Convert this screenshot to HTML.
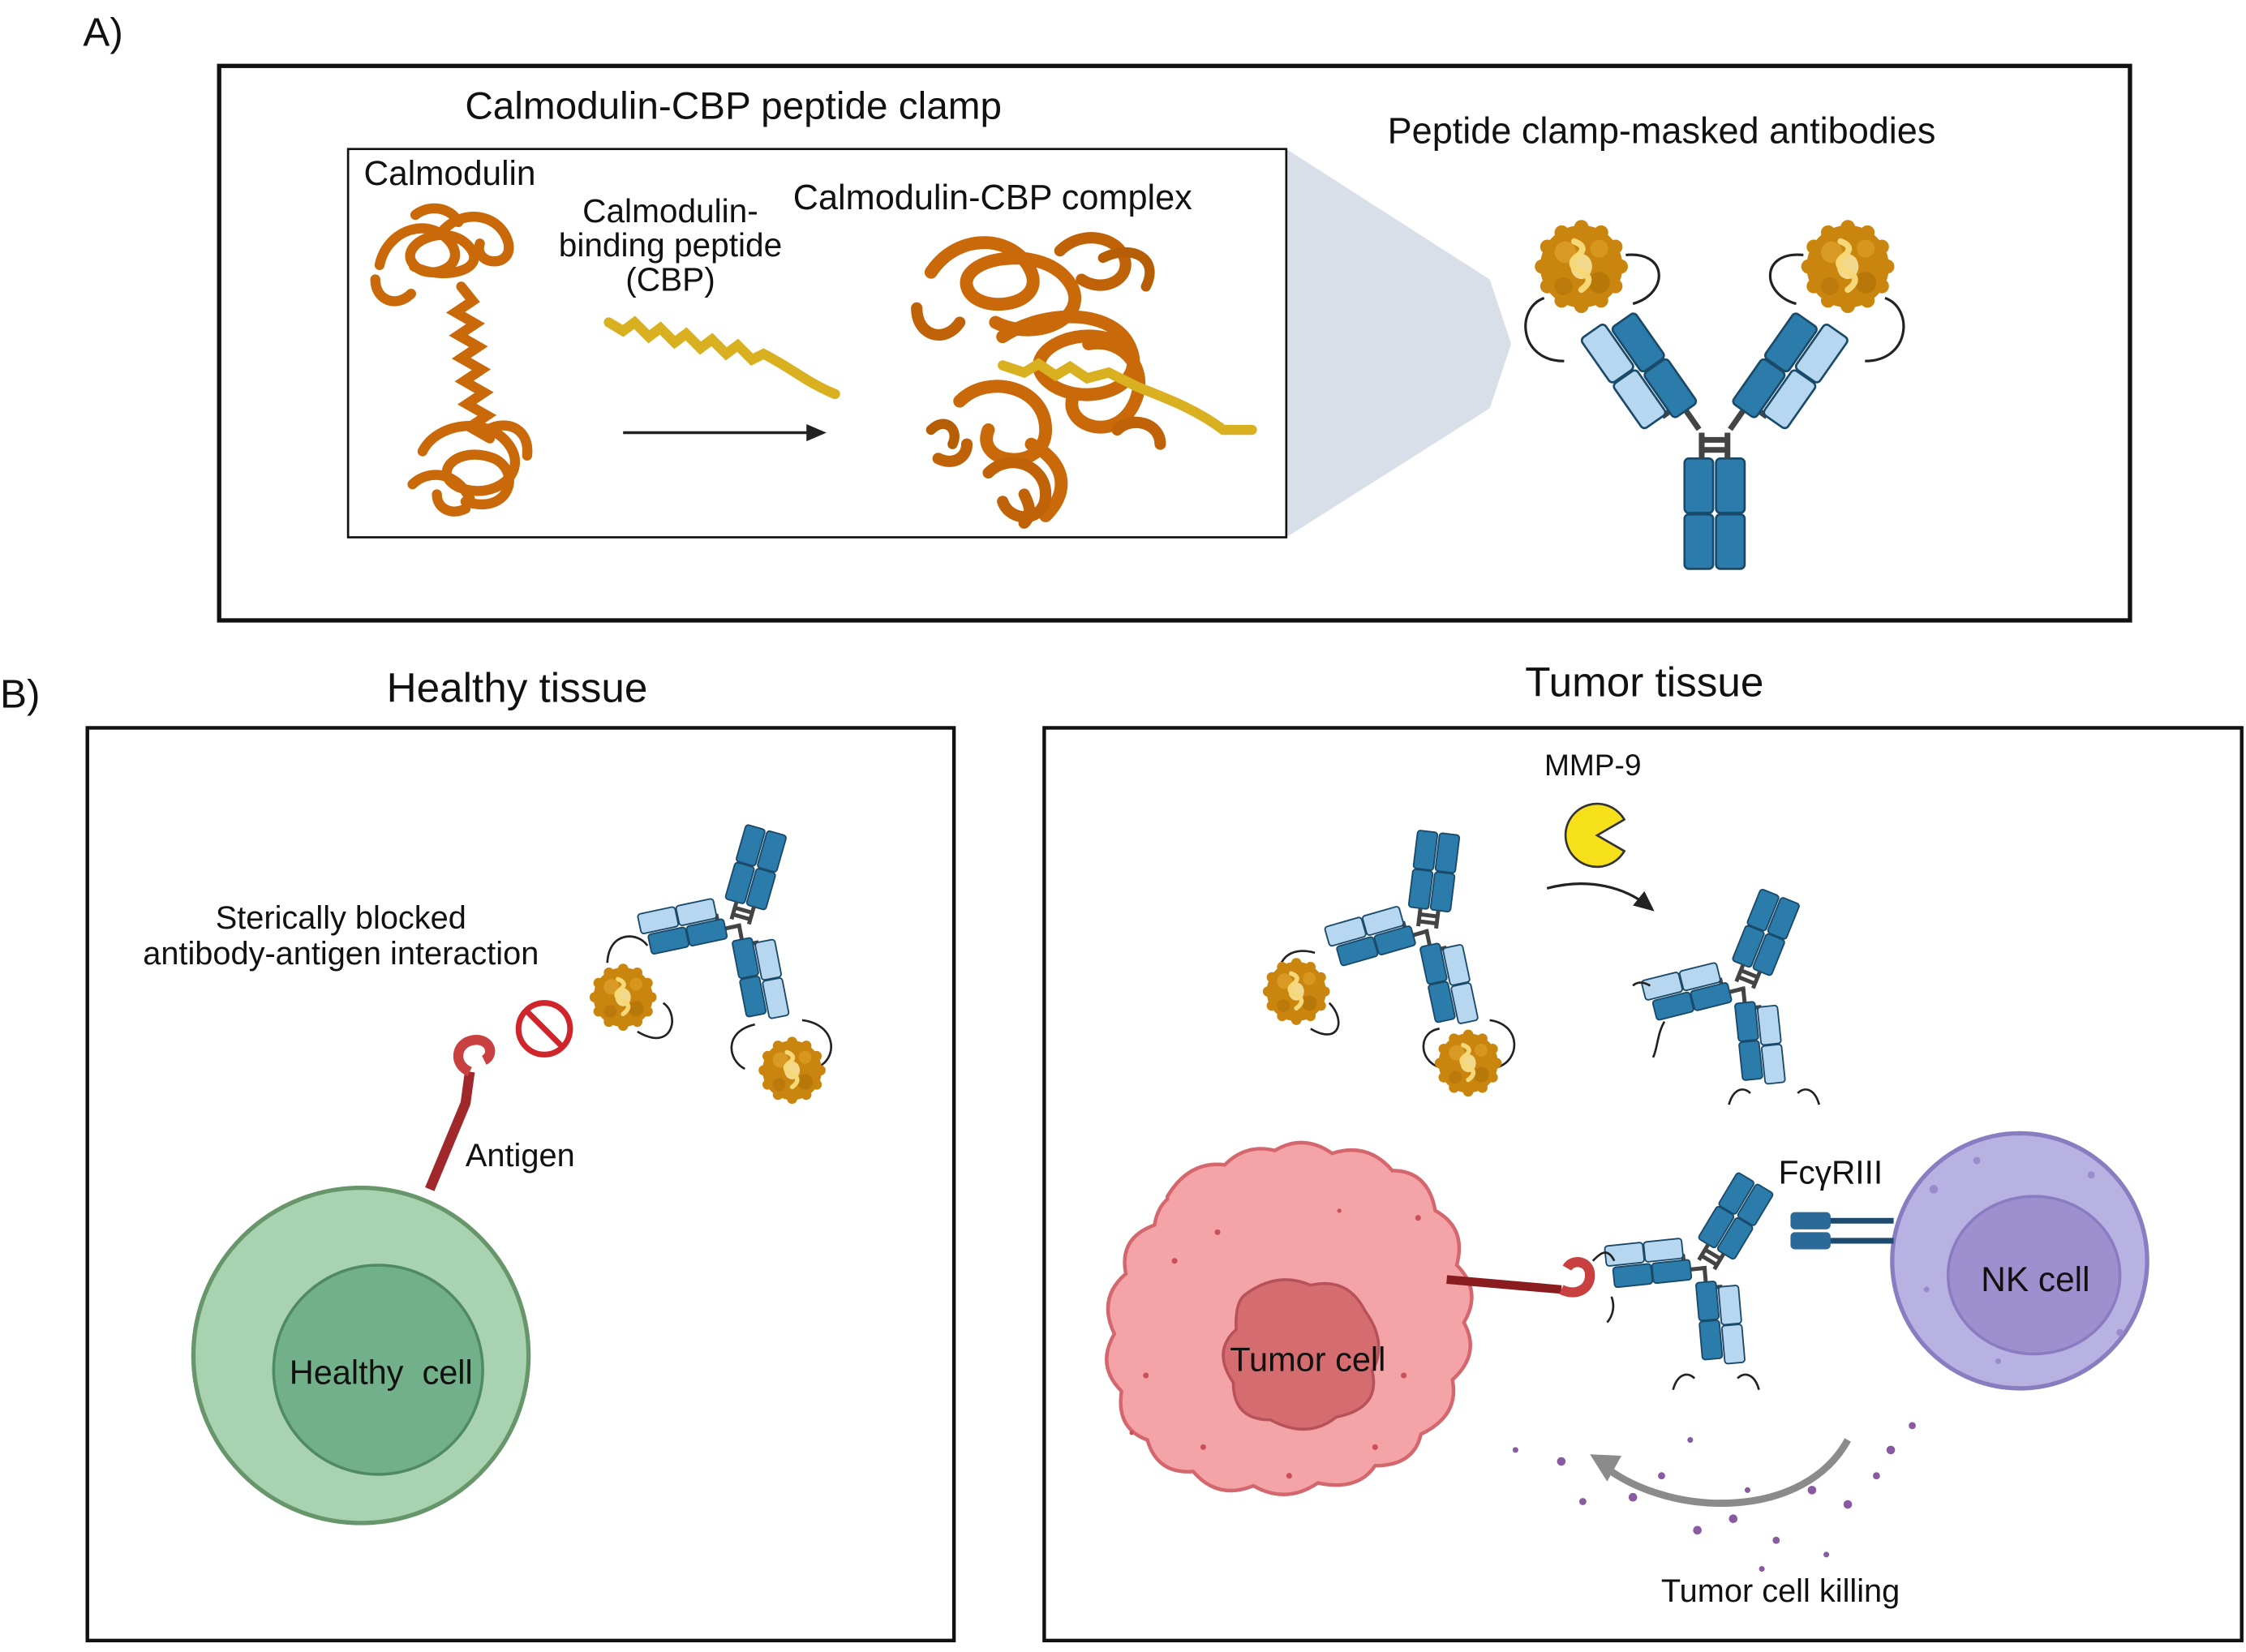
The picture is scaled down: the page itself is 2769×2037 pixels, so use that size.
<!DOCTYPE html>
<html><head><meta charset="utf-8"><style>
html,body{margin:0;padding:0;background:#fff;}
svg{display:block;}
text{font-family:"Liberation Sans",sans-serif;fill:#111;}
</style></head><body>
<svg width="2769" height="2037" viewBox="0 0 1568 1153" preserveAspectRatio="none" xmlns="http://www.w3.org/2000/svg">
<defs>
<g id="mask">
<g fill="#c9850d">
<circle r="23"/>
<circle cx="0" cy="-22" r="4"/><circle cx="11" cy="-19" r="4"/><circle cx="19" cy="-11" r="4"/><circle cx="22" cy="0" r="4"/><circle cx="19" cy="11" r="4"/><circle cx="11" cy="19" r="4"/><circle cx="0" cy="22" r="4"/><circle cx="-11" cy="19" r="4"/><circle cx="-19" cy="11" r="4"/><circle cx="-22" cy="0" r="4"/><circle cx="-19" cy="-11" r="4"/><circle cx="-11" cy="-19" r="4"/>
</g>
<circle cx="-9" cy="-8" r="6" fill="#d99a25"/><circle cx="10" cy="9" r="6" fill="#b87809"/><circle cx="10" cy="-10" r="5" fill="#d7961e"/><circle cx="-10" cy="11" r="5" fill="#bb7a0b"/>
<ellipse cx="0" cy="0" rx="6" ry="7" fill="#f3d98e"/>
<path d="M-4,-14 q8,3 2,8 q-7,5 2,9 q8,4 0,10" fill="none" stroke="#f7d878" stroke-width="3.5" stroke-linecap="round"/>
</g>
<g id="fc">
<g fill="#2b7bab" stroke="#1a4a6a" stroke-width="1.5">
<rect x="-21" y="22" width="20" height="38" rx="3"/><rect x="1" y="22" width="20" height="38" rx="3"/>
<rect x="-21" y="61" width="20" height="38" rx="3"/><rect x="1" y="61" width="20" height="38" rx="3"/>
</g>
<path d="M-9,22 V4 M9,22 V4 M-9,9 H9 M-9,16 H9" stroke="#444" stroke-width="4" fill="none"/>
</g>
<g id="armR">
<path d="M0,2 V-14" stroke="#444" stroke-width="4"/>
<path d="M10,-20 H16" stroke="#444" stroke-width="4"/>
<g stroke="#1a4a6a" stroke-width="1.5">
<rect x="-10" y="-52" width="20" height="38" rx="3" fill="#2b7bab"/>
<rect x="-10" y="-91" width="20" height="38" rx="3" fill="#2b7bab"/>
<rect x="12" y="-58" width="20" height="38" rx="3" fill="#b7d6f0"/>
<rect x="12" y="-97" width="20" height="38" rx="3" fill="#b7d6f0"/>
</g>
</g>
<g id="armL">
<path d="M0,2 V-14" stroke="#444" stroke-width="4"/>
<path d="M-10,-20 H-16" stroke="#444" stroke-width="4"/>
<g stroke="#1a4a6a" stroke-width="1.5">
<rect x="-10" y="-52" width="20" height="38" rx="3" fill="#2b7bab"/>
<rect x="-10" y="-91" width="20" height="38" rx="3" fill="#2b7bab"/>
<rect x="-32" y="-58" width="20" height="38" rx="3" fill="#b7d6f0"/>
<rect x="-32" y="-97" width="20" height="38" rx="3" fill="#b7d6f0"/>
</g>
</g>
</defs>

<text x="58" y="32" font-size="28">A)</text>
<rect x="153" y="46" width="1334" height="387" fill="none" stroke="#111" stroke-width="3"/>
<text x="512" y="83" font-size="27" text-anchor="middle">Calmodulin-CBP peptide clamp</text>
<polygon points="898,104 1040,195 1055,240 1040,285 898,375" fill="#d9dfe9"/>
<rect x="243" y="104" width="655" height="271" fill="#fff" stroke="#111" stroke-width="1.5"/>
<text x="1160" y="100" font-size="25.5" text-anchor="middle">Peptide clamp-masked antibodies</text>
<text x="254" y="129" font-size="24">Calmodulin</text>
<text x="468" y="155" font-size="23" text-anchor="middle">Calmodulin-</text>
<text x="468" y="179" font-size="23" text-anchor="middle">binding peptide</text>
<text x="468" y="203" font-size="23" text-anchor="middle">(CBP)</text>
<text x="693" y="146" font-size="24.5" text-anchor="middle">Calmodulin-CBP complex</text>
<line x1="435" y1="302" x2="565" y2="302" stroke="#222" stroke-width="2"/>
<polygon points="577,302 563,296 563,308" fill="#222"/>
<g fill="none" stroke="#c9690a" stroke-width="7" stroke-linecap="round">
<path d="M265,185 c5,-25 35,-35 50,-15 c12,18 -20,28 -28,12 c-6,-14 28,-28 42,-8 c10,15 -20,22 -40,12 M310,160 c15,-15 40,-10 45,10 c3,18 -25,15 -20,0"/>
<path d="M262,195 c0,15 15,20 25,10 M290,150 c10,-8 25,-5 30,5"/>
<path d="M322,200 l8,10 -12,8 14,8 -12,8 14,8 -12,8 14,8 -12,8 14,8 -12,8 14,8 -12,8 14,8"/>
<path d="M295,315 c10,-20 45,-25 60,-5 c15,20 -10,40 -35,30 c-20,-10 0,-30 25,-20 c20,10 10,40 -20,30 M288,338 c10,-10 30,-10 40,10 M340,300 c15,-8 30,0 28,18 M305,345 c0,10 10,15 20,10"/>
</g>
<path d="M425,225 l10,6 l8,-6 l10,10 l8,-6 l10,10 l8,-6 l10,10 l8,-6 l10,10 l8,-6 l10,10 l8,-4 c20,10 30,20 50,28" fill="none" stroke="#d8b020" stroke-width="7" stroke-linecap="round"/>
<g fill="none" stroke-linecap="round">
<path d="M650,190 c20,-30 60,-25 70,0 c10,25 -40,30 -45,10 c-5,-20 50,-30 70,-5 c20,25 -20,45 -50,30 M700,235 c30,-20 80,-20 90,10 c10,30 -40,40 -60,20 c-20,-20 30,-45 60,-20 M670,280 c20,-20 60,-10 60,20 c0,30 -50,25 -40,0 M720,310 c20,10 30,30 10,50 M760,240 c25,-5 45,20 30,45 c-15,25 -50,10 -40,-10" stroke="#c9690a" stroke-width="9"/>
<path d="M640,215 c0,20 20,25 30,10 M740,175 c15,-15 40,-10 45,5 c5,15 -15,25 -30,15 M690,330 c15,-15 40,-5 40,15 c0,20 -25,20 -30,5 M780,300 c10,-10 30,-5 30,10 M655,320 c10,5 20,0 20,-10 M715,345 c5,10 5,15 0,20" stroke="#c06308" stroke-width="8"/>
<path d="M700,255 l15,5 l10,-6 l12,8 l10,-6 l12,8 l15,-4 l20,10 c20,8 40,15 60,30 l20,0" stroke="#d8b020" stroke-width="7"/>
<path d="M650,300 c10,-10 20,0 15,10 M770,180 c20,-10 40,0 30,20" stroke="#b55e05" stroke-width="7"/>
</g>
<g transform="translate(1197,298)">
<use href="#fc"/>
<g transform="translate(-12,0) rotate(-35)"><use href="#armL"/></g>
<g transform="translate(12,0) rotate(35)"><use href="#armR"/></g>
</g>
<path d="M1092,252 C1060,252 1058,215 1078,208" fill="none" stroke="#222" stroke-width="1.8"/>
<path d="M1140,212 C1165,205 1165,175 1135,178" fill="none" stroke="#222" stroke-width="1.8"/>
<path d="M1302,252 C1334,252 1336,215 1316,208" fill="none" stroke="#222" stroke-width="1.8"/>
<path d="M1254,212 C1229,205 1229,175 1259,178" fill="none" stroke="#222" stroke-width="1.8"/>
<g transform="translate(1104,186) scale(1.25)"><use href="#mask"/></g>
<g transform="translate(1290,186) scale(1.25)"><use href="#mask"/></g>

<text x="0" y="494" font-size="28">B)</text>
<text x="361" y="490" font-size="29" text-anchor="middle">Healthy tissue</text>
<text x="1148" y="486" font-size="29" text-anchor="middle">Tumor tissue</text>
<rect x="61" y="508" width="605" height="637" fill="none" stroke="#111" stroke-width="2.5"/>
<rect x="729" y="508" width="836" height="637" fill="none" stroke="#111" stroke-width="2.5"/>

<text x="238" y="648" font-size="22.5" text-anchor="middle">Sterically blocked</text>
<text x="238" y="673" font-size="22.5" text-anchor="middle">antibody-antigen interaction</text>
<circle cx="380" cy="718" r="18" fill="none" stroke="#d0252a" stroke-width="4"/>
<line x1="368" y1="706" x2="392" y2="730" stroke="#d0252a" stroke-width="4"/>

<g transform="translate(516,646) scale(0.7)">
<g transform="rotate(196)"><use href="#fc"/></g>
<g transform="rotate(-102)"><use href="#armR"/></g>
<g transform="rotate(169)"><use href="#armL"/></g>
</g>
<path d="M452,660 C445,650 425,650 424,672" fill="none" stroke="#222" stroke-width="1.5"/>
<path d="M463,700 C475,708 470,735 445,720" fill="none" stroke="#222" stroke-width="1.5"/>
<path d="M527,715 C505,720 508,740 520,746" fill="none" stroke="#222" stroke-width="1.5"/>
<path d="M560,712 C585,715 585,740 570,745" fill="none" stroke="#222" stroke-width="1.5"/>
<g transform="translate(435,696) scale(0.9)"><use href="#mask"/></g>
<g transform="translate(553,747) scale(0.9)"><use href="#mask"/></g>

<circle cx="252" cy="946" r="117" fill="#a9d2b0" stroke="#66966a" stroke-width="3"/>
<circle cx="264" cy="956" r="73" fill="#72b08a" stroke="#4f8a63" stroke-width="2"/>
<text x="266" y="966" font-size="23.5" text-anchor="middle">Healthy&#160; cell</text>
<path d="M300,830 L325,770 L328,748" fill="none" stroke="#a0282b" stroke-width="7"/>
<path d="M328,748 c-12,-5 -10,-20 2,-22 c12,-2 16,10 8,14" fill="none" stroke="#c8403f" stroke-width="7"/>
<text x="325" y="814" font-size="22.5">Antigen</text>

<text x="1112" y="541" font-size="21" text-anchor="middle">MMP-9</text>
<path d="M1115,583 L1134,572 A22,22 0 1 0 1134,594 Z" fill="#f5e01a" stroke="#333" stroke-width="1.5"/>
<path d="M1080,620 C1110,612 1135,620 1150,632" fill="none" stroke="#222" stroke-width="1.8"/>
<polygon points="1155,636 1140,632 1148,622" fill="#222"/>

<g transform="translate(996,650) scale(0.7)">
<g transform="rotate(187)"><use href="#fc"/></g>
<g transform="rotate(-106)"><use href="#armR"/></g>
<g transform="rotate(168)"><use href="#armL"/></g>
</g>
<path d="M918,665 C900,660 890,670 893,688" fill="none" stroke="#222" stroke-width="1.5"/>
<path d="M928,700 C940,712 935,730 915,718" fill="none" stroke="#222" stroke-width="1.5"/>
<path d="M1005,718 C990,720 990,740 1005,745" fill="none" stroke="#222" stroke-width="1.5"/>
<path d="M1040,712 C1062,715 1062,740 1045,745" fill="none" stroke="#222" stroke-width="1.5"/>
<g transform="translate(905,692) scale(0.9)"><use href="#mask"/></g>
<g transform="translate(1025,742) scale(0.9)"><use href="#mask"/></g>

<g transform="translate(1217,690) scale(0.7)">
<g transform="rotate(202)"><use href="#fc"/></g>
<g transform="rotate(-104)"><use href="#armR"/></g>
<g transform="rotate(174)"><use href="#armL"/></g>
</g>
<path d="M1152,688 c-8,-5 -12,0 -12,0 M1162,713 c-5,8 -5,20 -8,25 M1222,763 c-5,-5 -12,-3 -15,8 M1255,763 c5,-5 12,-3 15,8" fill="none" stroke="#222" stroke-width="1.5"/>

<path d="M815,835 q15,-25 40,-22 q15,-15 35,-10 q20,-12 40,2 q25,-8 42,12 q25,0 30,28 q22,12 15,38 q18,18 5,40 q12,22 -8,40 q5,25 -22,38 q-5,22 -32,22 q-12,18 -40,12 q-22,15 -45,2 q-25,10 -42,-10 q-25,2 -32,-22 q-22,-8 -18,-34 q-18,-18 -5,-40 q-12,-25 8,-42 q-5,-25 20,-34 q2,-12 9,-18 z" fill="#f4a3a7" stroke="#d4676d" stroke-width="2.5"/>
<path d="M870,903 q22,-16 45,-6 q26,-6 38,18 q16,22 5,42 q6,26 -25,32 q-20,16 -46,2 q-26,0 -26,-26 q-15,-22 2,-37 q-1,-20 7,-25 z" fill="#d46c70" stroke="#b8525a" stroke-width="2"/>
<text x="913" y="957" font-size="23.5" text-anchor="middle">Tumor cell</text>
<g fill="#c9505a"><circle cx="820" cy="880" r="2"/><circle cx="800" cy="960" r="2"/><circle cx="840" cy="1010" r="2"/><circle cx="960" cy="1010" r="2"/><circle cx="990" cy="850" r="2"/><circle cx="850" cy="860" r="2"/><circle cx="980" cy="960" r="2"/><circle cx="900" cy="1030" r="2"/><circle cx="935" cy="845" r="1.5"/><circle cx="790" cy="1000" r="1.5"/></g>
<path d="M1010,893 L1090,900" stroke="#8a1c20" stroke-width="6"/>
<path d="M1090,900 c10,5 20,0 20,-10 c0,-10 -12,-12 -16,-5" fill="none" stroke="#c8403f" stroke-width="7"/>

<g transform="translate(1190,885) scale(0.7)">
<g transform="rotate(211)"><use href="#fc"/></g>
<g transform="rotate(-96)"><use href="#armR"/></g>
<g transform="rotate(175)"><use href="#armL"/></g>
</g>
<path d="M1112,880 c5,-5 10,-10 15,0 M1125,905 c2,5 2,12 -3,18 M1183,962 c-5,-5 -12,-3 -15,8 M1213,962 c5,-5 12,-3 15,8" fill="none" stroke="#222" stroke-width="1.5"/>

<circle cx="1410" cy="880" r="89" fill="#b8b2e3" stroke="#8a7cc0" stroke-width="3"/>
<ellipse cx="1420" cy="890" rx="60" ry="55" fill="#9e8fce" stroke="#8a7cc0" stroke-width="2"/>
<g fill="#9a8bcc"><circle cx="1350" cy="830" r="3"/><circle cx="1380" cy="810" r="2.5"/><circle cx="1460" cy="820" r="2.5"/><circle cx="1480" cy="930" r="2.5"/><circle cx="1345" cy="900" r="2"/><circle cx="1395" cy="950" r="2"/></g>
<text x="1421" y="901" font-size="24" text-anchor="middle">NK cell</text>
<text x="1278" y="826" font-size="23" text-anchor="middle">FcγRIII</text>
<line x1="1270" y1="852" x2="1322" y2="852" stroke="#1d4a6e" stroke-width="4"/>
<line x1="1270" y1="866" x2="1322" y2="866" stroke="#1d4a6e" stroke-width="4"/>
<rect x="1250" y="846" width="28" height="12" rx="3" fill="#2b6a98"/>
<rect x="1250" y="860" width="28" height="12" rx="3" fill="#2b6a98"/>

<path d="M1290,1005 C1260,1060 1170,1060 1122,1025" fill="none" stroke="#8b8b8b" stroke-width="5"/>
<polygon points="1110,1015 1132,1016 1122,1034" fill="#8b8b8b"/>
<g fill="#8a5aa0">
<circle cx="1090" cy="1020" r="3"/><circle cx="1105" cy="1048" r="2.5"/><circle cx="1140" cy="1045" r="3"/><circle cx="1160" cy="1030" r="2.5"/><circle cx="1185" cy="1068" r="3"/><circle cx="1210" cy="1060" r="3"/><circle cx="1240" cy="1075" r="2.5"/><circle cx="1265" cy="1040" r="3"/><circle cx="1290" cy="1050" r="3"/><circle cx="1320" cy="1012" r="3"/><circle cx="1335" cy="995" r="2.5"/><circle cx="1310" cy="1030" r="2.5"/><circle cx="1220" cy="1040" r="2"/><circle cx="1180" cy="1005" r="2"/><circle cx="1230" cy="1095" r="2"/><circle cx="1058" cy="1012" r="2"/><circle cx="1275" cy="1085" r="2"/>
</g>
<text x="1243" y="1118" font-size="22.5" text-anchor="middle">Tumor cell killing</text>
</svg>
</body></html>
